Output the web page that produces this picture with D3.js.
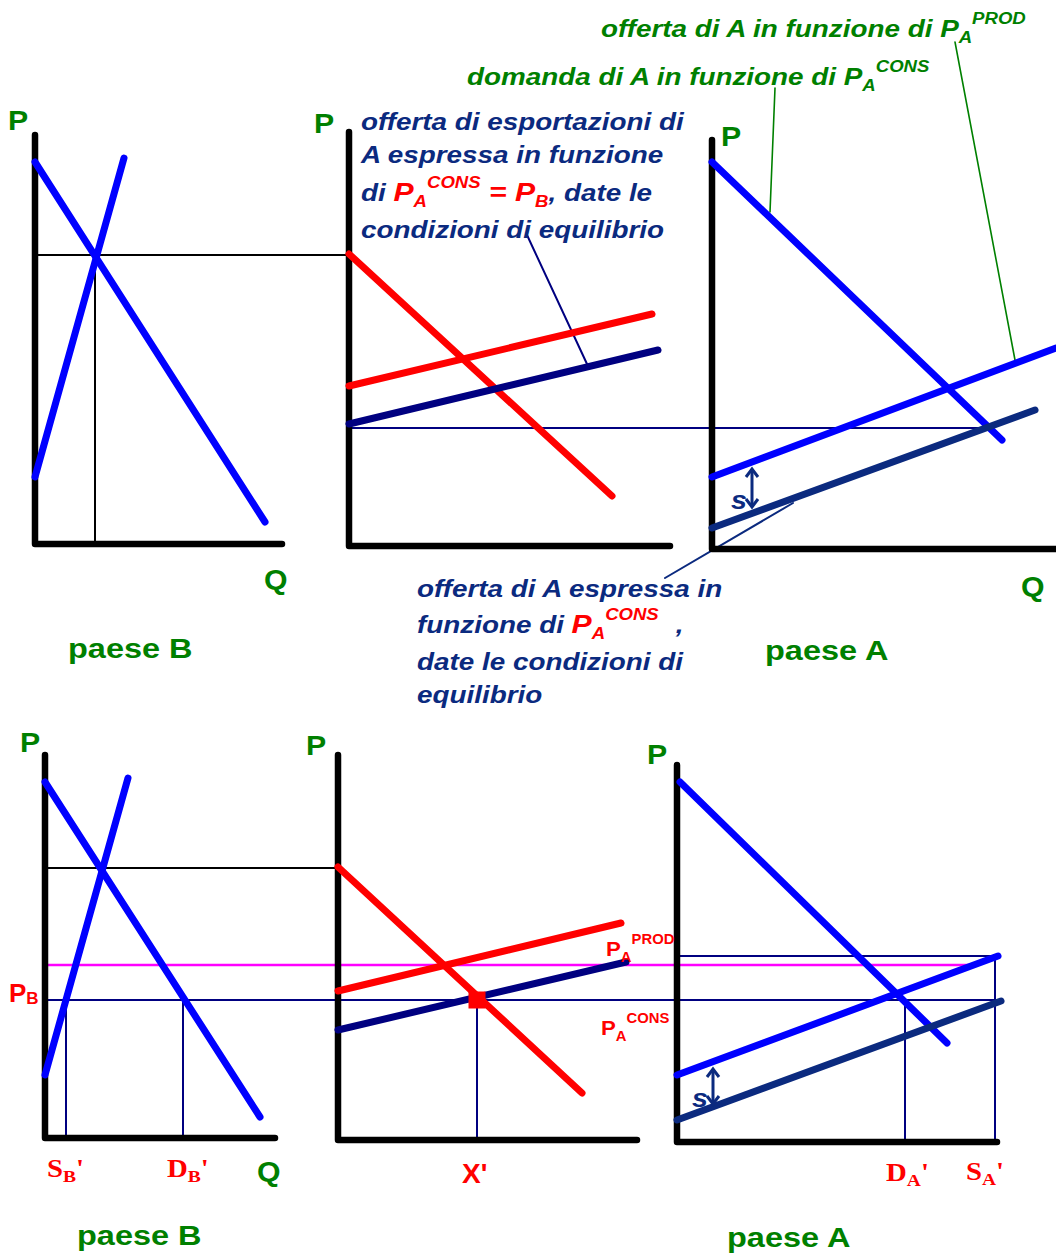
<!DOCTYPE html>
<html>
<head>
<meta charset="utf-8">
<script src="https://cdn.jsdelivr.net/npm/d3@7"></script>
<style>
  html, body { margin: 0; padding: 0; background: #fff; }
  text { white-space: pre; }
</style>
</head>
<body>
<div id="chart"></div>
<script>
// all curves are given as [Q, P] in panel units (0..100 on both axes)

// row 1, paese B
const axisB1 = [[0, 102.75], [0, 0.5], [61.75, 0.5]];
const demandB1 = [[0, 96], [57.5, 6]];
const supplyB1 = [[0, 17.25], [22.25, 97]];
const eqB1 = [15, 72.75];

// row 1, mercato delle esportazioni
const axisX1 = [[0, 103.5], [0, 0], [80.25, 0]];
const importX1 = [[0, 73], [65.75, 12.5]];
const exportProdX1 = [[0, 40], [75.75, 58]];
const exportConsX1 = [[0, 30.5], [77.25, 49]];
const pConsX1 = 29.5;

// row 1, paese A
const axisA1 = [[0, 101.5], [0, -0.75], [86, -0.75]];
const demandA1 = [[0, 96], [72.5, 26.5]];
const supplyProdA1 = [[0, 17.25], [86, 49.5]];
const supplyConsA1 = [[0, 4.5], [80.75, 34]];
const eqA1Q = 68.75;
const subsidyA1 = [10, 19.5, 9.5]; // q, p top, p bottom

// row 2, paese B
const axisB2 = [[0, 96.25], [0, 0.5], [57.5, 0.5]];
const demandB2 = [[0, 89.5], [53.75, 5.75]];
const supplyB2 = [[0, 16.25], [20.75, 90.5]];
const eqB2 = [14, 68];
const pB2 = 35;
const pProd2 = 43.75;
const sB2 = 5.25;
const dB2 = 34.5;

// row 2, mercato delle esportazioni
const axisX2 = [[0, 96.25], [0, 0], [74.75, 0]];
const importX2 = [[0, 68.25], [61, 11.75]];
const exportProdX2 = [[0, 37.25], [70.75, 54.25]];
const exportConsX2 = [[0, 27.5], [72, 44.5]];
const xEq2 = [34.75, 35];

// row 2, paese A
const axisA2 = [[0, 93.75], [0, -0.5], [80, -0.5]];
const demandA2 = [[0.75, 89.5], [67.5, 24.25]];
const supplyProdA2 = [[0, 16.25], [80.25, 46]];
const supplyConsA2 = [[0, 5], [81, 34.75]];
const dA2 = 57;
const sA2 = 79.5;
const pTopA2 = 46;
const subsidyA2 = [9, 18, 8.75];

// leader lines for the notes
const leaderExpX1 = [[44.5, 77.75], [59.5, 45.5]];
const leaderDemA1 = [[15.75, 114.5], [14.5, 83.5]];
const leaderSupA1 = [[60.75, 126], [75.75, 46.5]];
const leaderConsA1 = [[20.25, 10.75], [-11.75, -8]];

const width = 1056, height = 1255;
const sans = "'Liberation Sans', Arial, sans-serif";
const serif = "'Liberation Serif', 'Times New Roman', serif";
const green = "#008000", navy = "#000080", navyA = "#0b2a7f";

const svg = d3.select("#chart").append("svg")
  .attr("width", width).attr("height", height);

// one price scale per row, so the horizontal links line up
const rowY = [
  d3.scaleLinear().domain([0, 100]).range([546, 146]),
  d3.scaleLinear().domain([0, 100]).range([1140, 740])
];
const panel = (row, x0) => ({
  x: d3.scaleLinear().domain([0, 100]).range([x0, x0 + 400]),
  y: rowY[row]
});
const B1 = panel(0, 35), X1 = panel(0, 349), A1 = panel(0, 712);
const B2 = panel(1, 45), X2 = panel(1, 338), A2 = panel(1, 677);

const draw = (p, pts, color, w, cap = "round") =>
  svg.append("path")
    .datum(pts)
    .attr("fill", "none")
    .attr("stroke", color)
    .attr("stroke-width", w)
    .attr("stroke-linecap", cap)
    .attr("stroke-linejoin", "round")
    .attr("d", d3.line().x(d => p.x(d[0])).y(d => p.y(d[1])));

// horizontal link between two panels of the same row
const link = (pa, qa, pb, qb, price, color, w) =>
  svg.append("line")
    .attr("x1", pa.x(qa)).attr("x2", pb.x(qb))
    .attr("y1", pa.y(price)).attr("y2", pa.y(price))
    .attr("stroke", color).attr("stroke-width", w);

const vline = (p, q, top, color, w) => draw(p, [[q, top], [q, 0]], color, w, "butt");

// double arrow for the subsidy s
const arrow = (p, s) => {
  const x = p.x(s[0]), y1 = p.y(s[1]), y2 = p.y(s[2]);
  const g = svg.append("g").attr("stroke", navyA).attr("fill", "none")
    .attr("stroke-width", 3).attr("stroke-linejoin", "miter");
  g.append("line").attr("x1", x).attr("x2", x).attr("y1", y1 + 2).attr("y2", y2 - 2);
  g.append("path").attr("d", `M${x - 6},${y1 + 9}L${x},${y1 + 1}L${x + 6},${y1 + 9}`);
  g.append("path").attr("d", `M${x - 6},${y2 - 9}L${x},${y2 - 1}L${x + 6},${y2 - 9}`);
};

// text with sub/superscript runs; sx widens the glyphs like the original font
const rich = (x, y, parts, base) => {
  const t = svg.append("text")
    .attr("transform", `translate(${x},${y}) scale(${base.sx || 1},1)`)
    .attr("font-family", base.family || sans)
    .attr("font-weight", "bold")
    .attr("font-style", base.italic ? "italic" : "normal")
    .attr("font-size", base.size)
    .attr("fill", base.fill);
  let shift = 0;
  parts.forEach(p => {
    if (typeof p === "string") p = { text: p };
    const s = p.shift || 0;
    t.append("tspan")
      .attr("dy", s - shift)
      .attr("dx", p.dx || 0)
      .attr("font-size", p.size || base.size)
      .attr("fill", p.fill || base.fill)
      .text(p.text);
    shift = s;
  });
  return t;
};

// ---------- guide lines ----------
link(B1, 0.75, X1, -0.5, eqB1[1], "#000", 2);
vline(B1, eqB1[0], eqB1[1], "#000", 2);
link(X1, 0.25, A1, eqA1Q, pConsX1, navy, 2);

link(B2, 0.75, X2, -0.75, eqB2[1], "#000", 2);
link(B2, 0, A2, 74, pProd2, "#ff00ff", 2.5);
link(B2, -0.75, A2, sA2 + 0.5, pB2, navy, 2);
vline(B2, sB2, pB2, navy, 2);
vline(B2, dB2, pB2, navy, 2);
vline(X2, xEq2[0], xEq2[1], navy, 2);
draw(A2, [[0, pTopA2], [sA2, pTopA2]], navy, 2, "butt");
vline(A2, dA2, pB2, navy, 2);
vline(A2, sA2, pTopA2, navy, 2);

// leader lines
draw(X1, leaderExpX1, navy, 2);
draw(A1, leaderDemA1, green, 1.6);
draw(A1, leaderSupA1, green, 1.6);
draw(A1, leaderConsA1, navyA, 2);

// ---------- axes ----------
[[B1, axisB1], [X1, axisX1], [A1, axisA1], [B2, axisB2], [X2, axisX2], [A2, axisA2]]
  .forEach(([p, a]) => draw(p, a, "#000", 6.5));

// ---------- curves ----------
draw(B1, demandB1, "#0000ff", 7);
draw(B1, supplyB1, "#0000ff", 7);
draw(X1, importX1, "#ff0000", 7);
draw(X1, exportProdX1, "#ff0000", 7);
draw(X1, exportConsX1, navy, 7);
draw(A1, demandA1, "#0000ff", 7);
draw(A1, supplyProdA1, "#0000ff", 7);
draw(A1, supplyConsA1, navyA, 7);
arrow(A1, subsidyA1);

draw(B2, demandB2, "#0000ff", 7);
draw(B2, supplyB2, "#0000ff", 7);
draw(X2, importX2, "#ff0000", 7);
draw(X2, exportProdX2, "#ff0000", 7);
draw(X2, exportConsX2, navy, 7);
draw(A2, demandA2, "#0000ff", 7);
draw(A2, supplyProdA2, "#0000ff", 7);
draw(A2, supplyConsA2, navyA, 7);
arrow(A2, subsidyA2);

svg.append("rect")
  .attr("x", X2.x(xEq2[0]) - 8.5).attr("y", X2.y(xEq2[1]) - 8.5)
  .attr("width", 17).attr("height", 17)
  .attr("fill", "#ff0000");

// ---------- texts ----------
const g24 = { size: 24, fill: green, italic: true, sx: 1.16 };
const sub = (t, fill) => ({ text: t, size: 16, shift: 6, fill });
const sup = (t, fill) => ({ text: t, size: 16, shift: -13, fill });

rich(601, 37, ["offerta di A in funzione di ", "P", sub("A"), sup("PROD")], g24);
rich(467, 85, ["domanda di A in funzione di ", "P", sub("A"), sup("CONS")], g24);

const n24 = { size: 24, fill: navyA, italic: true, sx: 1.16 };
const red = "#ff0000";
rich(361, 130, ["offerta di esportazioni di"], n24);
rich(361, 163, ["A espressa in funzione"], n24);
rich(361, 201, ["di ", { text: "P", fill: red, size: 26 }, sub("A", red), sup("CONS", red),
  { text: " = P", fill: red, size: 26 }, sub("B", red), ", date le"], n24);
rich(361, 238, ["condizioni di equilibrio"], n24);

rich(417, 597, ["offerta di A espressa in"], n24);
rich(417, 633, ["funzione di ", { text: "P", fill: red, size: 26 }, sub("A", red), sup("CONS", red),
  { text: " ,", dx: 8 }], n24);
rich(417, 670, ["date le condizioni di"], n24);
rich(417, 703, ["equilibrio"], n24);

// axis letters and country names
const gl = { size: 28, fill: green, sx: 1.08 };
[[8, 130], [314, 133], [721, 146], [20, 752], [306, 755], [647, 764]]
  .forEach(([x, y]) => rich(x, y, ["P"], gl));
[[264, 589], [1021, 596], [257, 1181]]
  .forEach(([x, y]) => rich(x, y, ["Q"], gl));
const gn = { size: 28, fill: green, sx: 1.16 };
rich(68, 658, ["paese B"], gn);
rich(765, 660, ["paese A"], gn);
rich(77, 1245, ["paese B"], gn);
rich(727, 1247, ["paese A"], gn);

rich(731, 509, ["s"], { size: 26, fill: navyA, italic: true, sx: 1.1 });
rich(692, 1107, ["s"], { size: 26, fill: navyA, italic: true, sx: 1.1 });

// price labels, row 2
rich(9, 1002, ["P", { text: "B", size: 17, shift: 2 }], { size: 26, fill: red });
rich(606, 956, ["P", { text: "A", size: 14, shift: 6 }, { text: "PROD", size: 14, shift: -12 }],
  { size: 21, fill: red, sx: 1.06 });
rich(601, 1035, ["P", { text: "A", size: 14, shift: 6 }, { text: "CONS", size: 14, shift: -12 }],
  { size: 21, fill: red, sx: 1.06 });

// quantity labels, row 2
const rs = { size: 25, fill: red, family: serif, sx: 1.15 };
const sq = t => ({ text: t, size: 17, shift: 5 });
rich(47, 1177, ["S", sq("B"), { text: "'", shift: 0 }], rs);
rich(167, 1177, ["D", sq("B"), { text: "'", shift: 0 }], rs);
rich(886, 1181, ["D", sq("A"), { text: "'", shift: 0 }], rs);
rich(966, 1180, ["S", sq("A"), { text: "'", shift: 0 }], rs);
rich(462, 1183, ["X'"], { size: 28, fill: red });
</script>
</body>
</html>
